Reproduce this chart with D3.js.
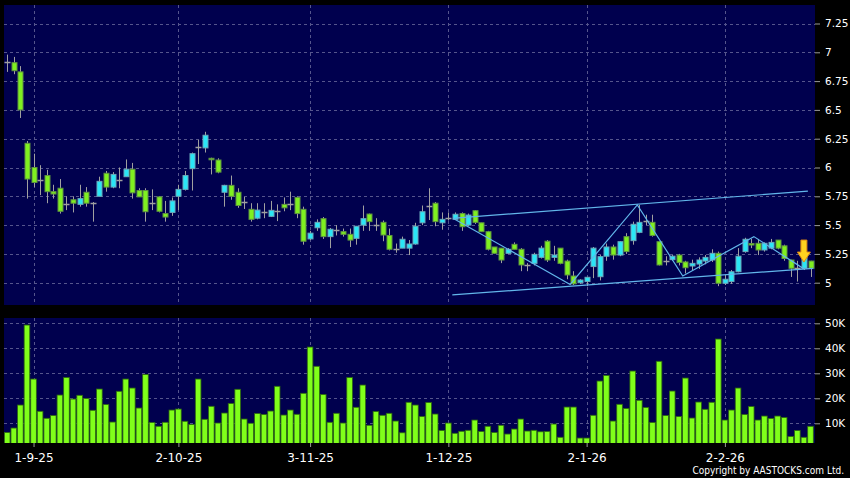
<!DOCTYPE html>
<html><head><meta charset="utf-8">
<script src="https://cdn.jsdelivr.net/npm/d3@7"></script>
<style>html,body{margin:0;padding:0;background:#000;}svg{display:block;}</style>
</head><body>
<svg id="c" width="850" height="478"></svg>
<script>
// ---- data ----
const opens  = [6.92,6.91,6.83,6.21,6.00,5.89,5.93,5.79,5.82,5.68,5.72,5.68,5.785,5.695,5.75,5.95,5.83,5.89,5.92,5.985,5.80,5.80,5.695,5.745,5.60,5.61,5.75,5.81,5.99,6.175,6.17,6.08,6.065,5.785,5.845,5.785,5.70,5.637,5.56,5.61,5.576,5.625,5.68,5.68,5.74,5.637,5.38,5.477,5.556,5.40,5.457,5.443,5.42,5.385,5.50,5.596,5.503,5.524,5.41,5.29,5.30,5.30,5.336,5.52,5.666,5.69,5.52,5.56,5.55,5.60,5.50,5.625,5.52,5.443,5.31,5.30,5.255,5.333,5.29,5.154,5.168,5.22,5.36,5.22,5.30,5.188,5.058,5.00,5.01,5.14,5.052,5.23,5.31,5.24,5.40,5.365,5.437,5.536,5.524,5.356,5.19,5.20,5.24,5.18,5.145,5.162,5.188,5.197,5.255,4.995,5.01,5.095,5.27,5.34,5.342,5.284,5.30,5.37,5.32,5.197,5.125,5.125,5.188];
const highs  = [6.98,6.96,6.88,6.23,6.12,6.02,5.98,5.85,5.90,5.75,5.75,5.85,5.83,5.70,5.92,5.97,5.96,6.00,6.07,6.04,5.82,5.82,5.81,5.75,5.71,5.74,5.85,5.97,6.13,6.24,6.31,6.085,6.08,5.85,5.93,5.82,5.745,5.69,5.69,5.69,5.71,5.68,5.74,5.79,5.75,5.66,5.45,5.55,5.57,5.475,5.50,5.47,5.47,5.49,5.67,5.60,5.56,5.54,5.47,5.34,5.40,5.37,5.52,5.67,5.82,5.70,5.61,5.61,5.61,5.61,5.60,5.63,5.52,5.45,5.31,5.30,5.30,5.35,5.30,5.17,5.26,5.32,5.37,5.32,5.30,5.20,5.10,5.03,5.05,5.31,5.24,5.34,5.33,5.36,5.43,5.53,5.675,5.59,5.59,5.36,5.23,5.24,5.25,5.19,5.20,5.22,5.24,5.29,5.27,5.07,5.11,5.30,5.39,5.38,5.38,5.35,5.38,5.37,5.33,5.20,5.19,5.24,5.19];
const lows   = [6.83,6.81,6.43,5.73,5.83,5.76,5.69,5.73,5.60,5.63,5.61,5.66,5.66,5.53,5.75,5.79,5.82,5.82,5.92,5.73,5.745,5.53,5.63,5.61,5.53,5.58,5.63,5.80,5.80,6.03,6.13,5.94,5.95,5.66,5.72,5.65,5.64,5.53,5.55,5.56,5.57,5.535,5.62,5.63,5.56,5.33,5.37,5.45,5.38,5.30,5.41,5.40,5.31,5.33,5.45,5.45,5.45,5.36,5.28,5.26,5.30,5.24,5.33,5.50,5.544,5.49,5.46,5.54,5.55,5.45,5.49,5.51,5.44,5.28,5.25,5.17,5.25,5.29,5.10,5.10,5.15,5.21,5.18,5.19,5.16,5.03,4.98,4.99,4.97,5.04,5.02,5.19,5.20,5.23,5.25,5.33,5.43,5.50,5.40,5.15,5.15,5.19,5.15,5.08,5.11,5.12,5.16,5.18,4.97,4.98,4.99,5.09,5.26,5.30,5.24,5.27,5.29,5.29,5.19,5.05,5.01,5.11,5.05];
const closes = [6.92,6.84,6.50,5.90,5.87,5.89,5.79,5.77,5.62,5.68,5.69,5.73,5.69,5.695,5.88,5.83,5.94,5.89,5.985,5.78,5.745,5.616,5.695,5.62,5.57,5.71,5.81,5.93,6.12,6.175,6.28,6.07,5.96,5.845,5.75,5.67,5.70,5.55,5.63,5.61,5.628,5.625,5.65,5.68,5.60,5.36,5.43,5.524,5.40,5.464,5.457,5.42,5.37,5.49,5.556,5.53,5.503,5.414,5.29,5.29,5.377,5.336,5.49,5.616,5.666,5.53,5.55,5.56,5.594,5.486,5.587,5.524,5.443,5.29,5.255,5.197,5.29,5.29,5.154,5.154,5.246,5.30,5.197,5.24,5.168,5.067,4.99,5.023,5.047,5.30,5.226,5.31,5.24,5.356,5.27,5.507,5.524,5.536,5.41,5.154,5.19,5.23,5.175,5.13,5.168,5.197,5.22,5.255,4.995,5.03,5.095,5.23,5.377,5.33,5.284,5.342,5.35,5.30,5.21,5.125,5.125,5.226,5.125];
// volume in thousands of shares
const volumes = [6.3,8.1,17.3,49.3,27.7,14.8,12,13.1,21.3,28.3,19.7,21.2,19.9,15.2,23.7,17.5,10.5,22.8,27.7,24.1,16.1,29.5,10.3,8.8,10.4,15.3,15.7,10.8,9.5,27.7,11.6,16.8,10.1,14.1,17.9,23.6,11.7,10,13.9,13.5,14.9,24.8,13.3,15.3,13.6,22,40.5,32.8,21.5,10.4,14,10.1,28.3,16.4,25.3,9.2,14.7,13.2,14,10.9,6.2,18.4,17.3,12.7,18.3,13.7,7.1,10.1,6,6.8,7.2,11.3,6.7,8.8,6.3,9.2,5.7,7.7,11.7,6.9,7.2,6.6,6.7,9.7,4.4,16.5,16.5,4.1,4.1,13.2,26.9,29.1,10.9,17.6,15.9,30.9,19.2,16.3,10.3,34.8,13.1,22.9,12.7,28.1,12.1,18.5,15.6,18.4,43.7,11.3,15.3,24.1,13.5,16.7,11.3,12.9,11.9,12.9,12.3,4.7,7.1,4.4,8.8];
const dateTickIdx = [4,26,46,67,88,109];
const dateTickLabels = ['1-9-25','2-10-25','3-11-25','1-12-25','2-1-26','2-2-26'];
const priceTicks = [5,5.25,5.5,5.75,6,6.25,6.5,6.75,7,7.25];
const volTicks = [10000,20000,30000,40000,50000];
// trend lines (index, price)
const upperLine = [[68,5.56],[121.6,5.795]];
const lowerLine = [[67.6,4.894],[122.4,5.125]];
const zigzag = [[67.7,5.56],[85.5,4.985],[95.7,5.675],[102.6,5.058],[113.4,5.40],[121,5.12]];
const arrowAt = {idx:121, price:5.37};

// ---- layout ----
const svg = d3.select('#c');
const P = {x0:4, x1:815, y0:5, y1:305};
const V = {x0:4, x1:815, y0:318, y1:443};
const NAVY = '#00004e';
const GRID = '#55558c';
const n = opens.length;

const x = d3.scaleLinear().domain([0, n-1]).range([7.2, 810.5]);
const y = d3.scaleLinear().domain([5, 7.25]).range([282.7, 23.5]);
const yv = d3.scaleLinear().domain([0, 50000]).range([448.3, 323.3]);

svg.append('rect').attr('width',850).attr('height',478).attr('fill','#000');
svg.append('rect').attr('x',P.x0).attr('y',P.y0).attr('width',P.x1-P.x0).attr('height',P.y1-P.y0).attr('fill',NAVY);
svg.append('rect').attr('x',V.x0).attr('y',V.y0).attr('width',V.x1-V.x0).attr('height',V.y1-V.y0).attr('fill',NAVY);

const defs = svg.append('defs');
defs.append('clipPath').attr('id','cp').append('rect').attr('x',P.x0).attr('y',P.y0).attr('width',P.x1-P.x0).attr('height',P.y1-P.y0);
defs.append('clipPath').attr('id','cv').append('rect').attr('x',V.x0).attr('y',V.y0).attr('width',V.x1-V.x0).attr('height',V.y1-V.y0);

// grids
const g = svg.append('g').attr('stroke',GRID).attr('stroke-width',1).attr('stroke-dasharray','3,3').attr('fill','none');
priceTicks.forEach(t=>g.append('line').attr('x1',P.x0).attr('x2',P.x1).attr('y1',Math.round(y(t))+0.5).attr('y2',Math.round(y(t))+0.5));
volTicks.forEach(t=>g.append('line').attr('x1',V.x0).attr('x2',V.x1).attr('y1',Math.round(yv(t))+0.5).attr('y2',Math.round(yv(t))+0.5));
dateTickIdx.forEach(t=>{
  const xx = Math.round(x(t))+0.5;
  g.append('line').attr('x1',xx).attr('x2',xx).attr('y1',P.y0).attr('y2',P.y1);
  g.append('line').attr('x1',xx).attr('x2',xx).attr('y1',V.y0).attr('y2',V.y1);
});

// candles
const cg = svg.append('g').attr('clip-path','url(#cp)');
const GREEN='#7ff020', GREEN_S='#5f9440', CYAN='#2ae6f6', CYAN_S='#6aa8ba', GRAY='#a0a0a0';
d3.range(n).forEach(i=>{
  const o=opens[i], c=closes[i], h=highs[i], l=lows[i];
  const cx = Math.round(x(i))+0.5;
  cg.append('line').attr('x1',cx).attr('x2',cx).attr('y1',y(h)).attr('y2',y(l)).attr('stroke',GRAY).attr('stroke-width',1);
  if (o===c) {
    cg.append('line').attr('x1',cx-3).attr('x2',cx+3).attr('y1',Math.round(y(o))+0.5).attr('y2',Math.round(y(o))+0.5).attr('stroke',GRAY).attr('stroke-width',1.5);
  } else {
    const up = c>o;
    const top = y(Math.max(o,c)), bot = y(Math.min(o,c));
    cg.append('rect').attr('x',cx-2.5).attr('y',top).attr('width',5).attr('height',Math.max(1.5,bot-top))
      .attr('fill',up?CYAN:GREEN).attr('stroke',up?CYAN_S:GREEN_S).attr('stroke-width',1);
  }
});

// trend lines
const line = d3.line().x(d=>x(d[0])).y(d=>y(d[1]));
[upperLine, lowerLine, zigzag].forEach(d=>cg.append('path').attr('d',line(d)).attr('fill','none').attr('stroke','#62b6ea').attr('stroke-width',1.2));

// arrow
const ax = x(arrowAt.idx), ay = y(arrowAt.price);
cg.append('path').attr('d',`M${ax-3},${ay} L${ax+3},${ay} L${ax+3},${ay+12} L${ax+6.5},${ay+12} L${ax},${ay+22} L${ax-6.5},${ay+12} L${ax-3},${ay+12} Z`)
  .attr('fill','#ffd21f').attr('stroke','#e08a10').attr('stroke-width',1);

// volume bars
const vg = svg.append('g').attr('clip-path','url(#cv)');
volumes.forEach((v,i)=>{
  const cx = x(i);
  vg.append('rect').attr('x',cx-2.8).attr('y',yv(v*1000)).attr('width',5.6).attr('height',yv(0)-yv(v*1000))
    .attr('fill','#80ff1a').attr('stroke','#2e6a10').attr('stroke-width',0.8);
});

// axes
const font = 'DejaVu Sans, sans-serif';
const pa = svg.append('g').attr('transform',`translate(${P.x1},0)`)
  .call(d3.axisRight(y).tickValues(priceTicks).tickSize(5).tickPadding(5).tickFormat(d=>String(d)));
const va = svg.append('g').attr('transform',`translate(${V.x1},0)`)
  .call(d3.axisRight(yv).tickValues(volTicks).tickSize(5).tickPadding(5).tickFormat(d=>(d/1000)+'K'));
const da = svg.append('g').attr('transform',`translate(0,${V.y1})`)
  .call(d3.axisBottom(x).tickValues(dateTickIdx).tickSize(4).tickPadding(6).tickFormat((d,i)=>dateTickLabels[i]));
[pa,va,da].forEach(a=>{
  a.select('.domain').remove();
  a.selectAll('.tick line').attr('stroke','#9a9a9a');
  a.selectAll('text').attr('fill','#ffffff').attr('font-family',font);
});
pa.selectAll('text').attr('font-size',10.5);
va.selectAll('text').attr('font-size',10.5);
da.selectAll('text').attr('font-size',12);

svg.append('text').attr('x',844).attr('y',474).attr('text-anchor','end').attr('fill','#fff')
  .attr('font-family','DejaVu Sans Condensed, DejaVu Sans, sans-serif').attr('font-size',10)
  .text('Copyright by AASTOCKS.com Ltd.');
</script>
</body></html>
